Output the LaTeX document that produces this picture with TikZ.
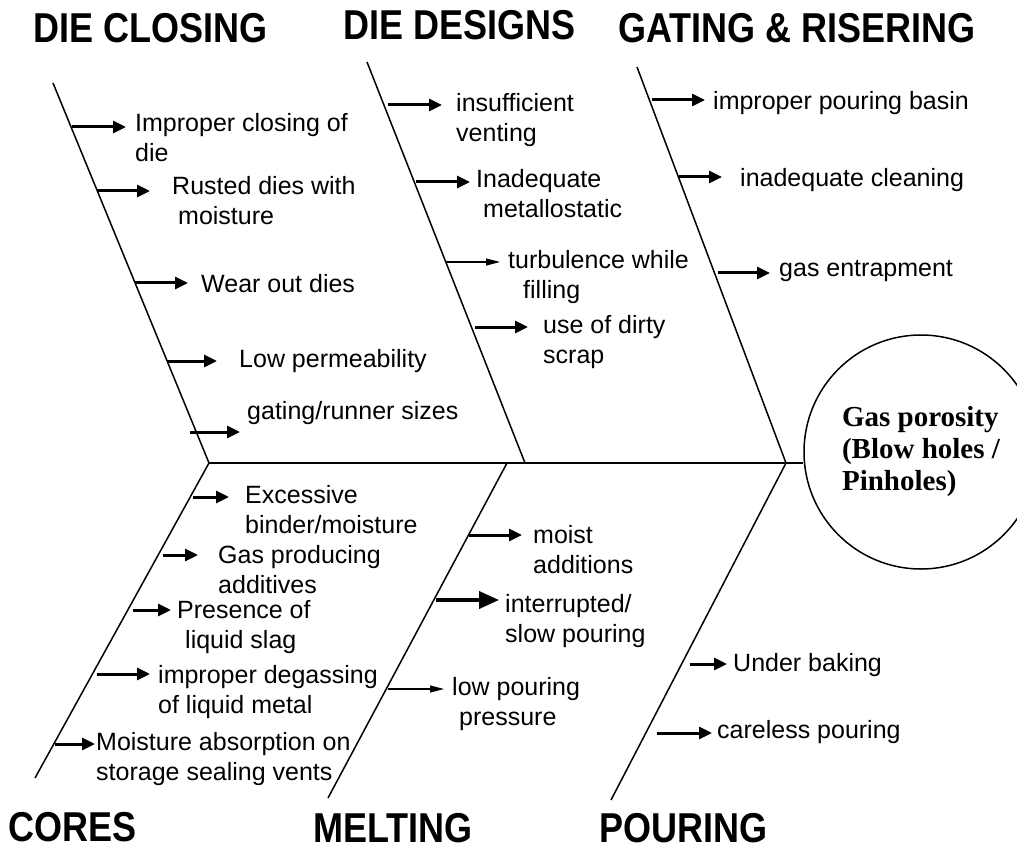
\documentclass[tikz,border=0pt]{standalone}
\usepackage{fontspec}
\usepackage{graphicx}
\setmainfont{Liberation Sans}
\newfontfamily\effectfont{Liberation Serif}
\usetikzlibrary{arrows.meta}

\tikzset{
  bone/.style={line width=1.5pt},
  spine/.style={line width=1.8pt},
  cause/.style={line width=3pt, -{Triangle[length=13pt,width=12pt]}},
  thincause/.style={line width=1.2pt, -{Triangle[length=14pt,width=7pt]}},
  bigcause/.style={line width=3.8pt, -{Triangle[length=20pt,width=17pt]}},
  causetext/.style={anchor=north west, inner sep=0pt, align=left,
    font=\fontsize{25}{30}\selectfont, execute at begin node=\strut},
  bonetitle/.style={inner sep=0pt, font=\fontsize{36}{40}\selectfont\bfseries},
  effect/.style={circle, draw, line width=1.5pt, minimum size=234pt, inner sep=0pt,
    align=left, font=\fontsize{29}{32}\selectfont\effectfont\bfseries},
}

\begin{document}
\begin{tikzpicture}[x=1pt, y=-1pt]
  \useasboundingbox (0,0) rectangle (1017,850);

  % effect and spine
  \node[effect] (eff) at (921,452) {Gas porosity\\(Blow holes /\\Pinholes)};
  \coordinate (j1) at (209,463);
  \coordinate (j2) at (507,463);
  \coordinate (j3) at (525,463);
  \coordinate (j4) at (786,463);
  \draw[spine] (j1) -- (j1 -| eff.west);

  % bones
  \coordinate (dcT) at (53,83);
  \coordinate (ddT) at (367,62);
  \coordinate (grT) at (637,67);
  \coordinate (coB) at (35,778);
  \coordinate (meB) at (328,798);
  \coordinate (poB) at (611,800);
  \draw[bone] (dcT) -- (j1) -- (coB);
  \draw[bone] (ddT) -- (j3);
  \draw[bone] (j2) -- (meB);
  \draw[bone] (grT) -- (j4) -- (poB);

  % titles
  \node[bonetitle] (tdc) at (151,28) {\scalebox{1}[1.16]{DIE CLOSING}};
  \node[bonetitle] (tdd) at (460,25) {\scalebox{1}[1.16]{DIE DESIGNS}};
  \node[bonetitle] (tgr) at (797,28) {\scalebox{1}[1.16]{GATING \& RISERING}};
  \node[bonetitle] (tco) at (73,827) {\scalebox{1}[1.16]{CORES}};
  \node[bonetitle] (tme) at (393,828) {\scalebox{1}[1.16]{MELTING}};
  \node[bonetitle] (tpo) at (683,828) {\scalebox{1}[1.16]{POURING}};

  % causes: tail x / tail y / gap / text x / text y / arrow / text
  \foreach \x/\y/\g/\tx/\ty/\s/\txt [count=\i] in {
    72/127/9/135/125/cause/{Improper closing of\\die},
    97/191/22/172/188/cause/{Rusted dies with\\\hspace{6pt}moisture},
    135/283/13/201/283/cause/{Wear out dies},
    167/361/22/239/358/cause/{Low permeability},
    190/432/7/247/410/cause/{gating/runner sizes},
    388/105/14/456/105/cause/{insufficient\\venting},
    416/182/6/476/181/cause/{Inadequate\\\hspace{7pt}metallostatic},
    446/262/8/508/262/thincause/{turbulence while\\\hspace{15pt}filling},
    475/327/15/543/327/cause/{use of dirty\\scrap},
    652/100/8/713/100/cause/{improper pouring basin},
    679/177/18/740/177/cause/{inadequate cleaning},
    718/273/9/779/267/cause/{gas entrapment},
    193/497/16/245/497/cause/{Excessive\\binder/moisture},
    163/555/20/218/557/cause/{Gas producing\\additives},
    133/610/6/177/612/cause/{Presence of\\\hspace{8pt}liquid slag},
    97/674/8/158/677/cause/{improper degassing\\of liquid metal},
    55/744/1/96/744/cause/{Moisture absorption on\\storage sealing vents},
    469/535/11/533/537/cause/{moist\\additions},
    436/600/6/505/606/bigcause/{interrupted/\\slow pouring},
    388/689/8/452/689/thincause/{low pouring\\\hspace{7pt}pressure},
    690/664/6/733/662/cause/{Under baking},
    657/733/5/717/729/cause/{careless pouring}}
  {
    \coordinate (t\i) at (\x,\y);
    \node[causetext] (c\i) at (\tx,\ty-12) {\txt};
    \draw[\s, shorten >=\g pt] (t\i) -- (t\i -| c\i.west);
  }
\end{tikzpicture}
\end{document}
